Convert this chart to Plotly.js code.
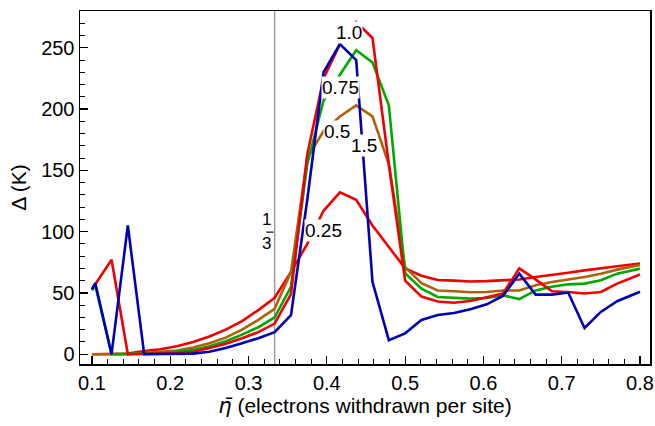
<!DOCTYPE html>
<html>
<head>
<meta charset="utf-8">
<script src="https://cdn.plot.ly/plotly-3.0.1.min.js"></script>
<style>html,body{margin:0;padding:0;background:#fff;}#chart{width:655px;height:426px;}</style>
</head>
<body>
<div id="chart"></div>
<script>
// eta-bar values (electrons withdrawn per site)
const eta = [0.1, 0.1042, 0.125, 0.1458, 0.1667, 0.1875, 0.2083, 0.2292, 0.25, 0.2708,
  0.2917, 0.3125, 0.3333, 0.3542, 0.375, 0.3958, 0.4167, 0.4375, 0.4583, 0.4792,
  0.5, 0.5208, 0.5417, 0.5625, 0.5833, 0.6042, 0.625, 0.6458, 0.6667, 0.6875,
  0.7083, 0.7292, 0.75, 0.7708, 0.8];

const seriesNames = ["0.25", "0.5", "0.75", "1.0", "1.5"];

const gap025 = [0, 0, 0, 0.5, 2.5, 4, 6.5, 10, 14.5, 20,
  27, 36, 46, 67, 90, 117, 132, 126, 105, 87,
  70, 64, 60.5, 60, 59.3, 59.6, 60.3, 61, 63, 65,
  66.5, 68.4, 70.3, 71.7, 74];

const gap05 = [0, 0, 0, 0, 1, 2, 3, 5.5, 9, 13.5,
  20, 28, 37, 67, 160, 182, 194, 203, 194, 155,
  71, 58, 52, 51.3, 50.5, 50.8, 52, 52, 56.2, 58.9,
  60.8, 63, 65.7, 69, 72.8];

const gap075 = [52, 56, 0, 0, 0.5, 1, 2, 3.5, 6.5, 10.5,
  16, 22, 30, 55, 155, 207, 228, 248, 238, 203,
  66, 53.5, 46.7, 45.9, 45.3, 45.9, 48, 45, 52, 55,
  57, 57.6, 60.3, 65.7, 69.8];

const gap10 = [53, 57, 77, 0, 0, 0.5, 1, 2, 5, 8.5,
  13, 18, 25, 49, 163, 225, 253, 271, 258, 155,
  60, 47, 43, 42, 43.4, 46.7, 49.5, 70, 61, 51.3,
  50.8, 49.5, 50.8, 57.6, 65];

const gap15 = [53, 58, 0, 105, 0, 0, 0, 0.5, 2, 5,
  9, 13, 18, 31.8, 126, 230, 253, 240, 59, 11.4,
  17, 28, 32, 33.6, 36.6, 40.7, 47.5, 65.7, 48.6, 48.6,
  50.3, 21.4, 34.5, 43.2, 51];

// label positions for the in-plot curve labels
const labelText = ["1.0", "0.75", "0.5", "1.5", "0.25"];
const labelX = [0.4285, 0.4176, 0.4125, 0.4472, 0.3957];
const labelY = [262.6, 217.8, 182, 170, 100.6];

const colors = {"0.25": "#f00000", "0.5": "#b0600c", "0.75": "#00a800", "1.0": "#f00000", "1.5": "#0000b4"};
const dataMap = {"0.25": gap025, "0.5": gap05, "0.75": gap075, "1.0": gap10, "1.5": gap15};

const traces = seriesNames.map(n => ({
  x: eta, y: dataMap[n], type: "scatter", mode: "lines", name: n,
  line: {color: colors[n], width: 2.6}, hoverinfo: "skip"
}));

const FONT = "Liberation Sans, Arial, Helvetica, sans-serif";

const annotations = labelText.map((t, i) => ({
  x: labelX[i], y: labelY[i], xref: "x", yref: "y", text: t, showarrow: false,
  font: {family: FONT, size: 19, color: "#000"}, bgcolor: "#fff", borderpad: 0
}));
annotations.push({x: 1/3, y: 109.5, xref: "x", yref: "y", text: "1", showarrow: false,
  xanchor: "right", xshift: -2, font: {family: FONT, size: 17, color: "#000"}});
annotations.push({x: 1/3, y: 90.5, xref: "x", yref: "y", text: "3", showarrow: false,
  xanchor: "right", xshift: -2, font: {family: FONT, size: 17, color: "#000"}});

const layout = {
  width: 655, height: 426,
  margin: {l: 80, r: 5, t: 11, b: 62},
  paper_bgcolor: "#fff", plot_bgcolor: "#fff",
  showlegend: false,
  font: {family: FONT, size: 20, color: "#000"},
  xaxis: {
    range: [0.0847, 0.8128], tickvals: [0.1, 0.2, 0.3, 0.4, 0.5, 0.6, 0.7, 0.8],
    ticktext: ["0.1", "0.2", "0.3", "0.4", "0.5", "0.6", "0.7", "0.8"],
    ticks: "inside", ticklen: 8, tickwidth: 1.2, tickcolor: "#000",
    minor: {ticks: "inside", dtick: 0.02, tick0: 0, ticklen: 5, tickwidth: 1, tickcolor: "#000"},
    showline: true, linecolor: "#000", linewidth: 1.5, mirror: true,
    showgrid: false, zeroline: false,
    tickfont: {family: FONT, size: 20},
    title: {text: "<span style=\"font-family:DejaVu Sans\"><i>η̄</i></span> (electrons withdrawn per site)", font: {family: FONT, size: 21}, standoff: 6}
  },
  yaxis: {
    range: [-8, 280], tickvals: [0, 50, 100, 150, 200, 250],
    ticks: "inside", ticklen: 8, tickwidth: 1.2, tickcolor: "#000",
    minor: {ticks: "inside", dtick: 10, tick0: 0, ticklen: 5, tickwidth: 1, tickcolor: "#000"},
    showline: true, linecolor: "#000", linewidth: 1.5, mirror: true,
    showgrid: false, zeroline: false,
    tickfont: {family: FONT, size: 20},
    title: {text: "Δ (K)", font: {family: FONT, size: 21}, standoff: 9}
  },
  shapes: [
    {type: "line", xref: "x", yref: "paper", x0: 1/3, x1: 1/3, y0: 0, y1: 1,
      line: {color: "#999", width: 1.4}, layer: "below"},
    {type: "line", xref: "x", yref: "y", x0: 0.3227, x1: 0.3318, y0: 99.6, y1: 99.6,
      line: {color: "#000", width: 1.2}, layer: "above"}
  ],
  annotations: annotations
};

Plotly.newPlot("chart", traces, layout, {displayModeBar: false, staticPlot: true});
</script>
</body>
</html>
